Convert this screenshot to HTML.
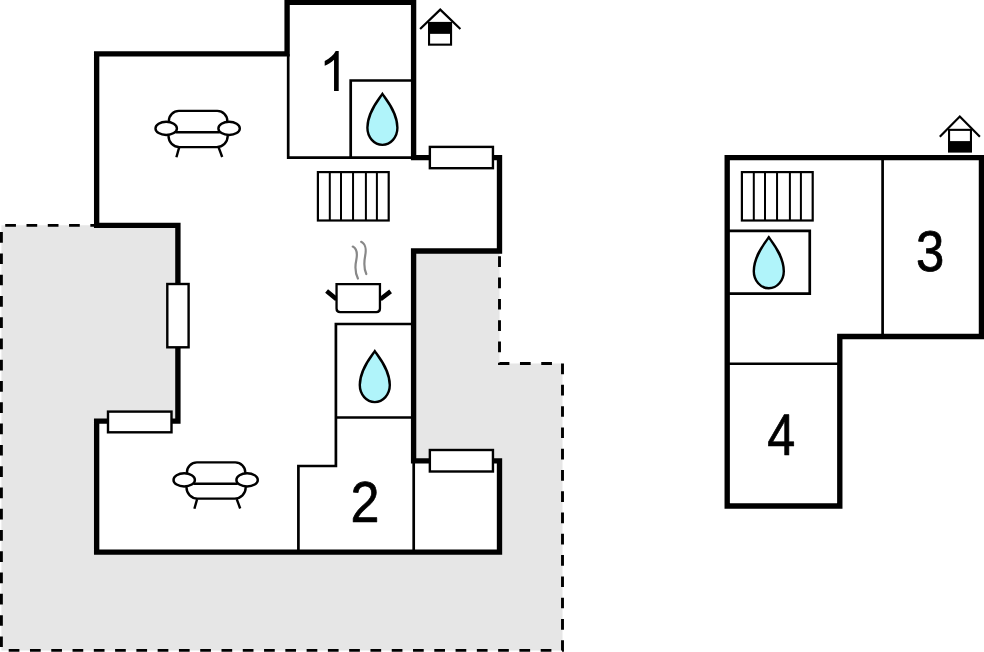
<!DOCTYPE html>
<html lang="en">
<head>
<meta charset="utf-8">
<title>Floor plan</title>
<style>
html,body{margin:0;padding:0;background:#fff;}
body{width:984px;height:652px;overflow:hidden;font-family:"Liberation Sans",sans-serif;}
svg{display:block;}
.wall{fill:none;stroke:#000;stroke-width:5.35;stroke-linejoin:miter;stroke-linecap:butt;}
.thin{fill:none;stroke:#000;stroke-width:2.7;stroke-linecap:butt;stroke-linejoin:miter;}
.win{fill:#fff;stroke:#000;stroke-width:2.4;}
.dash{fill:none;stroke:#000;stroke-width:2.9;stroke-dasharray:10.7 10.58;stroke-dashoffset:4.3;}
.num{font-family:"Liberation Sans",sans-serif;font-size:55.9px;fill:#000;text-anchor:middle;text-rendering:geometricPrecision;stroke:#000;stroke-width:0.7;stroke-linejoin:round;}
.drop{fill:#b0f4fa;stroke:#000;stroke-width:2.4;stroke-linejoin:miter;}
.ic{fill:none;stroke:#000;stroke-width:2.4;stroke-linecap:butt;}
</style>
</head>
<body>
<svg width="984" height="652" viewBox="0 0 984 652">
<defs>
  <path id="drop" d="M0,0 C4.2,6 15,18.8 15,34 A15,17 0 0 1 -15,34 C-15,18.8 -4.2,6 0,0 Z"/>
  <g id="sofa">
    <path class="ic" d="M-28.8,0 V-7.5 A10,10 0 0 1 -18.8,-17.5 H19.6 A10,10 0 0 1 29.6,-7.5 V0"/>
    <path class="ic" d="M-29.2,4 V7.7 A11,11 0 0 0 -18.2,18.7 H19 A11,11 0 0 0 30,7.7 V4"/>
    <line class="ic" x1="-22" y1="3.85" x2="22" y2="3.85"/>
    <ellipse class="ic" cx="-31.5" cy="0" rx="10.7" ry="6.6" style="fill:#fff"/>
    <ellipse class="ic" cx="31.4" cy="0" rx="10.7" ry="6.6" style="fill:#fff"/>
    <line class="ic" x1="-18.6" y1="19.2" x2="-21.3" y2="28.8"/>
    <line class="ic" x1="21" y1="19.2" x2="24.5" y2="28.6"/>
  </g>
</defs>

<!-- terrace gray -->
<path d="M1.4,225.35 L300,225.35 L300,251 L499.5,251 L499.5,363.55 L562.5,363.55 L562.5,650.4 L1.4,650.4 Z" fill="#e6e6e6"/>
<!-- house interior white -->
<path d="M287.1,53.85 L96.65,53.85 L96.65,225.4 L177.9,225.4 L177.9,421.15 L96.65,421.15 L96.65,552.1 L499.5,552.1 L499.5,460.9 L413.6,460.9 L413.6,251 L499.5,251 L499.5,157.55 L413.6,157.55 L413.6,2.3 L287.1,2.3 Z" fill="#fff"/>
<!-- dashed outline -->
<path class="dash" d="M96.75,225.35 L1.4,225.35 L1.4,650.4 L562.5,650.4 L562.5,363.55 L499.5,363.55 L499.5,251"/>

<!-- thin interior lines, main building -->
<path class="thin" d="M288.2,54 V157.7 H413"/>
<path class="thin" d="M350.7,157.7 V80.5 H413"/>
<path class="thin" d="M413,324 H335.9 V466 H298.4 V552"/>
<path class="thin" d="M336,417.5 H413"/>
<path class="thin" d="M413.7,461 V552"/>

<!-- walls main building -->
<path class="wall" d="M287.1,53.85 L96.65,53.85 L96.65,225.4 L177.9,225.4 L177.9,421.15 L96.65,421.15 L96.65,552.1 L499.5,552.1 L499.5,460.9 L413.6,460.9 L413.6,251 L499.5,251 L499.5,157.55 L413.6,157.55 L413.6,2.3 L287.1,2.3 Z"/>

<!-- windows -->
<rect class="win" x="429.85" y="146.9" width="63.1" height="21.3"/>
<rect class="win" x="429.85" y="450" width="63.1" height="21.5"/>
<rect class="win" x="167.3" y="284" width="21.3" height="63.3"/>
<rect class="win" x="108" y="411.6" width="63.5" height="20.7"/>

<!-- stairs main -->
<g>
<rect x="317.9" y="172.1" width="70.8" height="48.4" fill="#fff" stroke="#000" stroke-width="2.2"/>
<path d="M329.8,172.1 V220.5 M341,172.1 V220.5 M353.05,172.1 V220.5 M365.9,172.1 V220.5 M376.9,172.1 V220.5" stroke="#000" stroke-width="2" fill="none"/>
</g>

<!-- drops -->
<use href="#drop" class="drop" x="382.4" y="93.85"/>
<use href="#drop" class="drop" x="374.8" y="351.1"/>

<!-- sofas -->
<use href="#sofa" x="197.7" y="128.4"/>
<use href="#sofa" x="215.7" y="479.9"/>

<!-- pot -->
<g>
<path d="M326.6,290.9 L336.6,299.2 M390.6,291.4 L380.4,299.2" stroke="#000" stroke-width="4.5" fill="none"/>
<path d="M336.55,284.15 H379.95 V308.6 Q379.95,312.15 376.4,312.15 H340.1 Q336.55,312.15 336.55,308.6 Z" fill="#fff" stroke="#000" stroke-width="2.3"/>
<path d="M352.8,246.6 C356.5,248.5 357.5,254 356.3,260 C355,266 355.2,273 357.9,278.5" stroke="#888" stroke-width="2.2" stroke-linecap="round" fill="none"/>
<path d="M361.2,241.8 C365,243.5 366.5,249 365.2,255.5 C364,262 363.8,268.5 366.3,274" stroke="#888" stroke-width="2.2" stroke-linecap="round" fill="none"/>
</g>

<!-- house icon 1 -->
<g>
<rect x="429.05" y="22.95" width="22" height="21.7" fill="#fff" stroke="#000" stroke-width="2.1"/>
<rect x="429.05" y="22.95" width="22" height="10.9" fill="#000"/>
<path d="M420.1,29 L440.25,9.6 L460.4,29" fill="none" stroke="#000" stroke-width="2.2"/>
</g>

<!-- numbers main -->
<g role="img" aria-label="1"><title>1</title><path d="M763,0 H583 V1147 Q518,1085 412.5,1023 Q307,961 223,930 V1104 Q374,1175 487,1276 Q600,1377 647,1472 H763 Z" transform="translate(318.92,91.1) scale(0.02593,-0.02731)" fill="#000"/></g>
<text class="num" transform="translate(364.92,521.59) scale(0.932,1.032)">2</text>

<!-- second building -->
<path d="M727.2,157.6 H981.45 V336.5 H839.8 V506 H727.2 Z" fill="#fff"/>
<path class="thin" d="M882.6,157.6 V336.5"/>
<path class="thin" d="M727.2,230.9 H809.75 V293.7 H727.2"/>
<path class="thin" d="M727.2,363.75 H839.8"/>
<g>
<rect x="741.9" y="172.1" width="70.8" height="48.4" fill="#fff" stroke="#000" stroke-width="2.2"/>
<path d="M753.8,172.1 V220.5 M765,172.1 V220.5 M777.05,172.1 V220.5 M789.9,172.1 V220.5 M800.9,172.1 V220.5" stroke="#000" stroke-width="2" fill="none"/>
</g>
<path class="wall" d="M727.2,157.6 H981.45 V336.5 H839.8 V506 H727.2 Z"/>
<use href="#drop" class="drop" x="768.8" y="237.3"/>
<!-- house icon 2 -->
<g>
<rect x="949.05" y="129.85" width="21.9" height="21.7" fill="#fff" stroke="#000" stroke-width="2.1"/>
<rect x="949.05" y="141.1" width="21.9" height="10.45" fill="#000"/>
<path d="M939.8,136.7 L959.8,116.55 L979.9,136.7" fill="none" stroke="#000" stroke-width="2.2"/>
</g>
<text class="num" transform="translate(930.16,271.49) scale(0.910,1.028)">3</text>
<text class="num" transform="translate(781.29,454.66) scale(0.900,1.047)">4</text>
</svg>
</body>
</html>
